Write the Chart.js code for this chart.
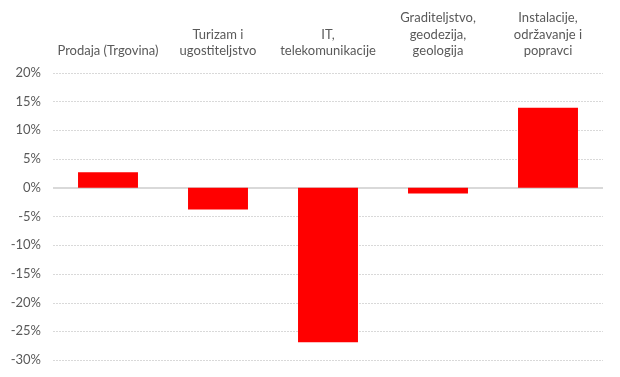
<!DOCTYPE html>
<html>
<head>
<meta charset="utf-8">
<script src="https://cdn.jsdelivr.net/npm/chart.js@4"></script>
<style>
  html, body { margin: 0; padding: 0; background: #fff; }
  #wrap { width: 620px; height: 377px; }
</style>
</head>
<body>
<div id="wrap"><canvas id="chart"></canvas></div>
<script>
const categories = [
    ['Prodaja (Trgovina)'],
    ['Turizam i', 'ugostiteljstvo'],
    ['IT,', 'telekomunikacije'],
    ['Graditeljstvo,', 'geodezija,', 'geologija'],
    ['Instalacije,', 'održavanje i', 'popravci']
];
const changes = [2.7, -3.8, -26.9, -1.0, 13.9];
const yMin = -30;
const yMax = 20;
const yStep = 5;

const ctx = document.getElementById('chart').getContext('2d');

new Chart(ctx, {
    type: 'bar',
    data: {
        labels: categories,
        datasets: [{
            data: changes,
            backgroundColor: '#ff0000',
            borderWidth: 0,
            categoryPercentage: 1,
            barPercentage: 0.545
        }]
    },
    options: {
        responsive: true,
        maintainAspectRatio: false,
        animation: false,
        layout: {
            padding: { left: 10, right: 17, top: 4, bottom: 17 }
        },
        plugins: {
            legend: { display: false },
            tooltip: { enabled: false }
        },
        scales: {
            x: {
                position: 'top',
                grid: { display: false },
                border: { display: false },
                ticks: {
                    maxRotation: 0,
                    autoSkip: false,
                    color: '#595959',
                    padding: 6,
                    font: { family: 'Lato', size: 13, lineHeight: 1.25 }
                }
            },
            y: {
                min: yMin,
                max: yMax,
                border: { display: false },
                grid: { display: false, drawTicks: false },
                ticks: {
                    stepSize: yStep,
                    color: '#595959',
                    padding: 12,
                    font: { family: 'Lato', size: 13 },
                    callback: v => v + '%'
                },
                afterFit: scale => {
                    scale.width = 43;
                    scale.paddingBottom = 0;
                }
            }
        }
    },
    plugins: [{
        id: 'dottedGrid',
        beforeDatasetsDraw(chart) {
            // dotted gridlines, solid zero line
            const y = chart.scales.y;
            const c = chart.ctx;
            const area = chart.chartArea;
            c.save();
            y.ticks.forEach(t => {
                const py = Math.round(y.getPixelForValue(t.value));
                c.beginPath();
                if (t.value === 0) {
                    c.setLineDash([]);
                    c.lineWidth = 2;
                    c.strokeStyle = '#d9d9d9';
                    c.moveTo(area.left, py);
                    c.lineTo(area.right, py);
                } else {
                    c.setLineDash([2, 1]);
                    c.lineWidth = 1;
                    c.strokeStyle = '#d9d9d9';
                    c.moveTo(area.left, py + 0.5);
                    c.lineTo(area.right, py + 0.5);
                }
                c.stroke();
            });
            c.restore();
        }
    }]
});
</script>
</body>
</html>
